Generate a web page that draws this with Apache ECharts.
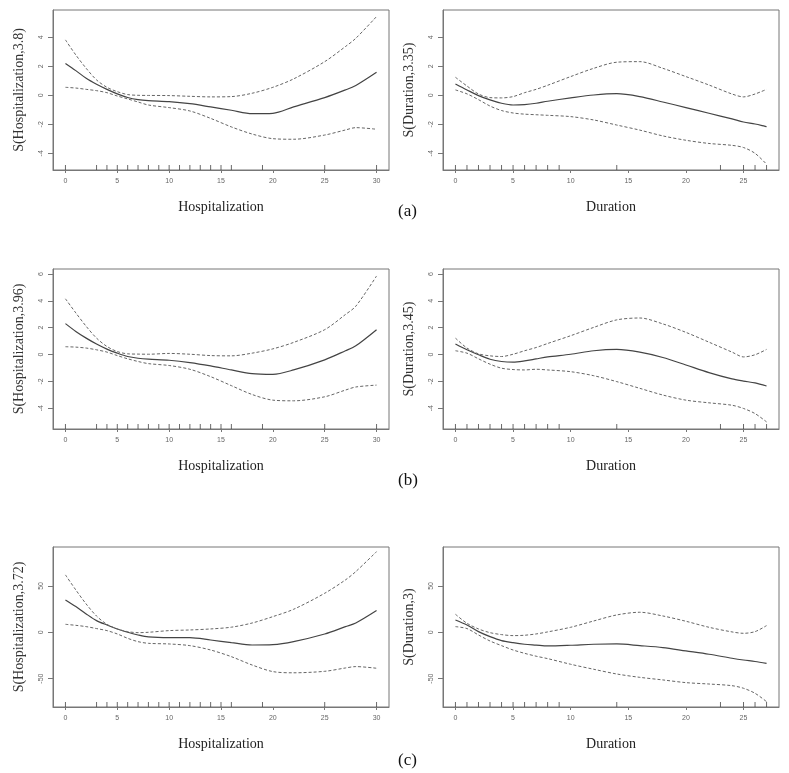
<!DOCTYPE html>
<html>
<head>
<meta charset="utf-8">
<script src="https://cdn.jsdelivr.net/npm/echarts@6/dist/echarts.min.js"></script>
<style>
html,body{margin:0;padding:0;background:#fff;}
#chart{width:789px;height:773px;}
</style>
</head>
<body>
<div id="chart"></div>
<script>
// ---- data ----
var hospX = [0,1,2,3,4,5,6,7,8,10,12,14,16,18,20,22,25,27,28,30];
var durX  = [0,1,2,3,4,5,6,7,8,10,12,14,16,18,20,22,24,25,26,27];
var hospRug = [0,3,4,5,6,7,8,9,10,11,12,13,14,15,16,19,25,30];
var durRug  = [0,1,2,3,4,5,6,7,8,9,14,23,25,26,27];

var aHospFit = [2.2,1.7,1.17,0.76,0.41,0.1,-0.15,-0.3,-0.37,-0.44,-0.58,-0.8,-1.03,-1.27,-1.24,-0.8,-0.16,0.37,0.68,1.59];
var aHospUp  = [3.82,2.78,1.86,1.06,0.55,0.25,0.05,0,-0.01,-0.02,-0.07,-0.11,-0.09,0.14,0.55,1.13,2.32,3.36,3.93,5.43];
var aHospLo  = [0.55,0.5,0.41,0.32,0.18,-0.05,-0.25,-0.46,-0.67,-0.85,-1.08,-1.59,-2.18,-2.67,-2.99,-3.03,-2.74,-2.39,-2.23,-2.34];

var aDurFit = [0.78,0.37,-0.02,-0.32,-0.55,-0.67,-0.64,-0.55,-0.41,-0.18,0.02,0.11,-0.09,-0.46,-0.85,-1.24,-1.63,-1.84,-1.98,-2.16];
var aDurUp  = [1.24,0.64,0.09,-0.16,-0.18,-0.09,0.18,0.41,0.69,1.29,1.86,2.28,2.32,1.86,1.29,0.71,0.09,-0.11,0.09,0.41];
var aDurLo  = [0.37,0.1,-0.3,-0.74,-1.05,-1.22,-1.3,-1.34,-1.38,-1.47,-1.7,-2.05,-2.4,-2.8,-3.1,-3.32,-3.45,-3.6,-4.0,-4.75];

var bHospFit = [2.3,1.72,1.22,0.78,0.4,0.1,-0.15,-0.28,-0.35,-0.43,-0.6,-0.85,-1.15,-1.43,-1.48,-1.15,-0.4,0.28,0.65,1.85];
var bHospUp  = [4.15,3.1,2.1,1.22,0.6,0.22,0.05,0.03,0.02,0.08,0.02,-0.08,-0.1,0.1,0.42,0.9,1.85,2.98,3.6,5.85];
var bHospLo  = [0.58,0.55,0.48,0.35,0.18,-0.08,-0.32,-0.52,-0.68,-0.82,-1.1,-1.65,-2.32,-2.98,-3.4,-3.45,-3.15,-2.65,-2.42,-2.28];

var bDurFit = [0.78,0.35,-0.02,-0.35,-0.52,-0.57,-0.48,-0.33,-0.18,0.02,0.28,0.38,0.18,-0.22,-0.78,-1.35,-1.82,-1.98,-2.12,-2.35];
var bDurUp  = [1.22,0.48,0.05,-0.1,-0.15,0.02,0.28,0.52,0.82,1.4,2.02,2.58,2.72,2.28,1.65,0.92,0.18,-0.18,-0.02,0.38];
var bDurLo  = [0.28,0.1,-0.32,-0.72,-1.02,-1.12,-1.15,-1.1,-1.15,-1.28,-1.58,-2.02,-2.52,-3.02,-3.4,-3.6,-3.78,-4.02,-4.4,-5.02];

var cHospFit = [34.9,27.7,19.8,12.6,7.9,3.6,0,-2.9,-5,-5.8,-5.8,-8.3,-11.2,-13.7,-13.3,-10,-1.8,6.1,10,23.4];
var cHospUp  = [61.9,45.7,30.5,17.5,8.6,3.6,0.7,-0.4,0,1.8,2.5,3.6,5.5,10,16.9,24.8,42.1,56.5,65.5,87];
var cHospLo  = [8.6,7.5,6.1,4,1.8,-1.8,-6.5,-10.1,-11.9,-12.6,-14.4,-19.1,-26.3,-35.3,-42.4,-43.7,-42.1,-38.5,-37,-38.8];

var cDurFit = [13.3,7.9,0.7,-4.7,-9,-11.2,-12.9,-13.8,-14.7,-14,-12.9,-12.6,-14.4,-16.5,-20.1,-23.7,-28,-29.9,-31.5,-33.5];
var cDurUp  = [19.4,9.7,3.6,-0.4,-2.5,-3.6,-3.2,-1.8,0.4,5.4,12.2,18.7,21.6,17.6,11.9,5.4,0.4,-1.1,0.7,7.2];
var cDurLo  = [6.1,4,-2.9,-9.4,-14.4,-19.1,-22.7,-25.8,-28.4,-34.5,-39.9,-45,-48.6,-51.4,-54.3,-55.8,-57.6,-60.4,-65.8,-74.8];

var hospTicks = [0,5,10,15,20,25,30];
var durTicks  = [0,5,10,15,20,25];
var yTicksA = [-4,-2,0,2,4];
var yTicksB = [-4,-2,0,2,4,6];
var yTicksC = [-50,0,50];

var panelLabels = ['(a)','(b)','(c)'];

// ---- layout ----
var panels = [
  {x:hospX, rug:hospRug, xt:hospTicks, xmin:-1.2, xmax:31.2, ymin:-5.15, ymax:5.88, yt:yTicksA, fit:aHospFit, up:aHospUp, lo:aHospLo, xname:'Hospitalization', yname:'S(Hospitalization,3.8)', left:53, top:10},
  {x:durX, rug:durRug, xt:durTicks, xmin:-1.08, xmax:28.08, ymin:-5.15, ymax:5.88, yt:yTicksA, fit:aDurFit, up:aDurUp, lo:aDurLo, xname:'Duration', yname:'S(Duration,3.35)', left:443, top:10},
  {x:hospX, rug:hospRug, xt:hospTicks, xmin:-1.2, xmax:31.2, ymin:-5.55, ymax:6.37, yt:yTicksB, fit:bHospFit, up:bHospUp, lo:bHospLo, xname:'Hospitalization', yname:'S(Hospitalization,3.96)', left:53, top:269},
  {x:durX, rug:durRug, xt:durTicks, xmin:-1.08, xmax:28.08, ymin:-5.55, ymax:6.37, yt:yTicksB, fit:bDurFit, up:bDurUp, lo:bDurLo, xname:'Duration', yname:'S(Duration,3.45)', left:443, top:269},
  {x:hospX, rug:hospRug, xt:hospTicks, xmin:-1.2, xmax:31.2, ymin:-80.6, ymax:92, yt:yTicksC, fit:cHospFit, up:cHospUp, lo:cHospLo, xname:'Hospitalization', yname:'S(Hospitalization,3.72)', left:53, top:547},
  {x:durX, rug:durRug, xt:durTicks, xmin:-1.08, xmax:28.08, ymin:-80.6, ymax:92, yt:yTicksC, fit:cDurFit, up:cDurUp, lo:cDurLo, xname:'Duration', yname:'S(Duration,3)', left:443, top:547}
];

var grids=[], xAxes=[], yAxes=[], series=[];
var serif = 'Liberation Serif';
function pairs(xs, ys){ return xs.map(function(v,i){return [v, ys[i]];}); }

panels.forEach(function(p, i){
  grids.push({left:p.left, top:p.top, width:336, height:160, show:true, borderColor:'#777', borderWidth:1, backgroundColor:'transparent', outerBoundsMode:'none'});
  xAxes.push({
    type:'value', gridIndex:i, min:p.xmin, max:p.xmax,
    name:p.xname, nameLocation:'middle', nameGap:30,
    nameTextStyle:{fontFamily:serif, fontSize:14, color:'#222'},
    axisLine:{show:true, onZero:false, lineStyle:{color:'#777', width:1}},
    axisTick:{show:true, inside:false, length:3, customValues:p.xt, lineStyle:{color:'#777'}},
    axisLabel:{show:true, customValues:p.xt, margin:8, fontSize:7, color:'#666', fontFamily:'Liberation Sans'},
    splitLine:{show:false}
  });
  yAxes.push({
    type:'value', gridIndex:i, min:p.ymin, max:p.ymax,
    name:p.yname, nameLocation:'middle', nameRotate:90, nameGap:27,
    nameTextStyle:{fontFamily:serif, fontSize:14, color:'#333'},
    axisLine:{show:true, onZero:false, lineStyle:{color:'#777', width:1}},
    axisTick:{show:true, inside:false, length:5, customValues:p.yt, lineStyle:{color:'#777'}},
    axisLabel:{show:true, customValues:p.yt, rotate:90, margin:8, fontSize:7, color:'#666', fontFamily:'Liberation Sans'},
    splitLine:{show:false}
  });
  var lineBase = {type:'line', xAxisIndex:i, yAxisIndex:i, showSymbol:false, symbol:'none', smooth:0.3, silent:true, animation:false};
  series.push(Object.assign({}, lineBase, {data:pairs(p.x,p.fit), lineStyle:{color:'#444', width:1.2, type:'solid'}}));
  series.push(Object.assign({}, lineBase, {data:pairs(p.x,p.up), lineStyle:{color:'#666', width:1, type:[3,2]}}));
  series.push(Object.assign({}, lineBase, {data:pairs(p.x,p.lo), lineStyle:{color:'#666', width:1, type:[3,2]}}));
  series.push({
    type:'scatter', xAxisIndex:i, yAxisIndex:i, silent:true, animation:false,
    symbol:'rect', symbolSize:[1,5], symbolOffset:[0,-2.5],
    itemStyle:{color:'#444'},
    data:p.rug.map(function(v){return [v, p.ymin];})
  });
});

var chart = echarts.init(document.getElementById('chart'), null, {renderer:'canvas'});
chart.setOption({
  animation:false,
  backgroundColor:'#fff',
  grid:grids, xAxis:xAxes, yAxis:yAxes, series:series,
  graphic:[
    {type:'text', left:398, top:203, style:{text:panelLabels[0], font:'17px "Liberation Serif"', fill:'#111'}},
    {type:'text', left:398, top:472, style:{text:panelLabels[1], font:'17px "Liberation Serif"', fill:'#111'}},
    {type:'text', left:398, top:752, style:{text:panelLabels[2], font:'17px "Liberation Serif"', fill:'#111'}}
  ]
});
</script>
</body>
</html>
